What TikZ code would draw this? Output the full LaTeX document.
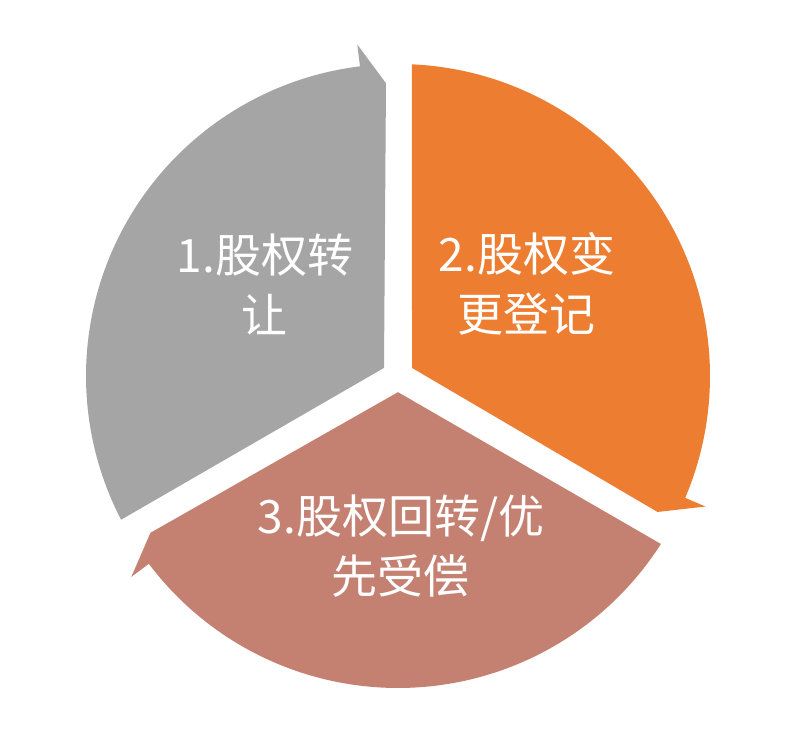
\documentclass[tikz,border=0pt]{standalone}
\usepackage{fontspec}
\setmainfont{Noto Sans CJK SC}
\definecolor{segGray}{HTML}{A5A5A5}
\definecolor{segOrange}{HTML}{ED7D31}
\definecolor{segBrown}{RGB}{196,129,113}

\begin{document}
\begin{tikzpicture}[x=1pt,y=1pt,
    segtext/.style={text=white,align=center,inner sep=0pt,
        font=\fontsize{46}{60}\selectfont}]
    \useasboundingbox (-398,-362) rectangle (395,376);
    \coordinate (O) at (0,0);
    \foreach \rot/\col in {0/segGray, -120/segOrange, -240/segBrown}{
        \fill[\col,rotate=\rot] (150:16.17) -- (207.43:312)
            arc[start angle=207.43,end angle=97,radius=312]
            -- (97:334) -- (92.35:293) -- cycle;
    }
    %
    \node[segtext] (t1) at (-133,92) {1.股权转\\让};
    \node[segtext] (t2) at (129,92) {2.股权变\\更登记};
    \node[segtext] (t3) at (3,-170) {3.股权回转/优\\先受偿};
\end{tikzpicture}
\end{document}
